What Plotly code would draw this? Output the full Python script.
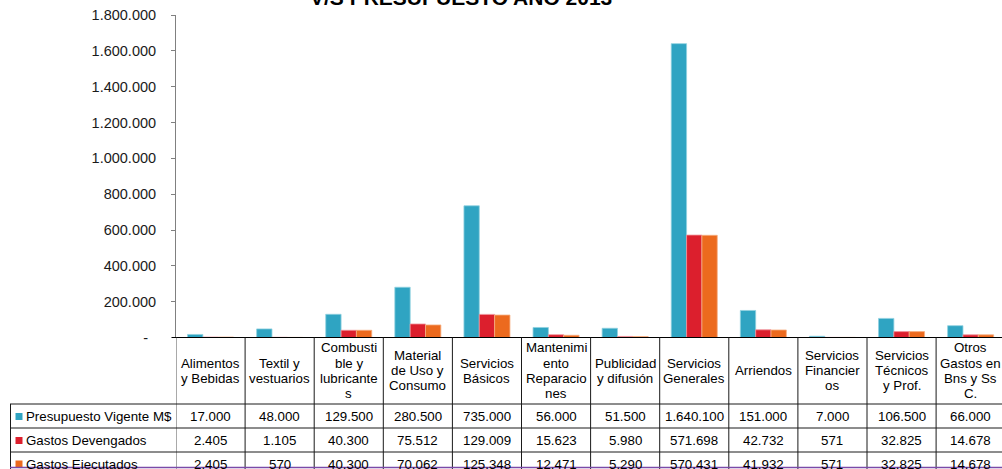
import plotly.graph_objects as go

W, H = 1002, 469
FONT = "Liberation Sans, Arial, sans-serif"

categories = ["Alimentos y Bebidas", "Textil y vestuarios", "Combustible y lubricantes",
              "Material de Uso y Consumo", "Servicios Básicos", "Mantenimiento Reparaciones",
              "Publicidad y difusión", "Servicios Generales", "Arriendos",
              "Servicios Financieros", "Servicios Técnicos y Prof.", "Otros Gastos en Bns y Ss C."]
category_label_lines = [
    ["Alimentos", "y Bebidas"],
    ["Textil y", "vestuarios"],
    ["Combusti", "ble y", "lubricante", "s"],
    ["Material", "de Uso y", "Consumo"],
    ["Servicios", "Básicos"],
    ["Mantenimi", "ento", "Reparacio", "nes"],
    ["Publicidad", "y difusión"],
    ["Servicios", "Generales"],
    ["Arriendos"],
    ["Servicios", "Financier", "os"],
    ["Servicios", "Técnicos", "y Prof."],
    ["Otros", "Gastos en", "Bns y Ss", "C."],
]
series_names = ["Presupuesto Vigente M$", "Gastos Devengados", "Gastos Ejecutados"]
presupuesto = [17000, 48000, 129500, 280500, 735000, 56000, 51500, 1640100, 151000, 7000, 106500, 66000]
devengados = [2405, 1105, 40300, 75512, 129009, 15623, 5980, 571698, 42732, 571, 32825, 14678]
ejecutados = [2405, 570, 40300, 70062, 125348, 12471, 5290, 570431, 41932, 571, 32825, 14678]
colors = ["#2FA4C2", "#DC1F2D", "#EC6A1E"]
edge_colors = ["#8FD0E0", "#F0939A", "#F6AE82"]
y_tickvals = [0, 200000, 400000, 600000, 800000, 1000000, 1200000, 1400000, 1600000, 1800000]
title_text = "V/S PRESUPUESTO AÑO 2013"


def fmt(v):
    return f"{v:,}".replace(",", ".")


def py(p):
    return (H - p) / H


def px(p):
    return p / W


x_left = 176
col_w = 69.1
axis_y = 337.5
top_y = 15
n = len(categories)
x_range_max = -0.5 + (W - x_left) / col_w

fig = go.Figure()
idx = list(range(n))
for name, vals, c, ec in zip(series_names, [presupuesto, devengados, ejecutados], colors, edge_colors):
    fig.add_trace(go.Bar(x=idx, y=vals, name=name, marker=dict(color=c, line=dict(color=ec, width=0.8)),
                         hoverinfo="skip"))

fig.update_layout(
    template="none",
    width=W, height=H, autosize=False,
    margin=dict(l=0, r=0, t=0, b=0, pad=0, autoexpand=False),
    paper_bgcolor="white", plot_bgcolor="white",
    barmode="group", bargap=0.334, bargroupgap=0,
    showlegend=False,
    font=dict(family=FONT, color="#000000"),
    xaxis=dict(domain=[px(x_left), 1], range=[-0.5, x_range_max], showticklabels=False,
               showgrid=False, zeroline=False, showline=False, ticks="", automargin=False),
    yaxis=dict(domain=[py(axis_y), py(top_y)], range=[0, 1800000], showgrid=False, zeroline=False,
               showline=True, linecolor="#808080", linewidth=1, automargin=False,
               ticks="outside", ticklen=4, tickcolor="#808080", tickwidth=1,
               tickvals=y_tickvals,
               ticktext=["-\u00a0\u00a0"] + [fmt(v) for v in y_tickvals[1:]],
               tickfont=dict(family=FONT, size=14.5, color="#1a1a1a"),
               ticklabelstandoff=12),
)

shapes = []
line_col = "#1a1a1a"
# x axis line (extends slightly left of the y axis)
shapes.append(dict(type="line", xref="paper", yref="paper", x0=px(172), x1=1, y0=py(axis_y), y1=py(axis_y),
                   line=dict(color="#000000", width=1.2)))
# continuation of y axis line down through table
shapes.append(dict(type="line", xref="x", yref="paper", x0=-0.5, x1=-0.5, y0=py(axis_y), y1=0,
                   line=dict(color="#555555", width=1)))
# table column lines
for i in range(1, n + 1):
    shapes.append(dict(type="line", xref="x", yref="paper", x0=i - 0.5, x1=i - 0.5, y0=py(axis_y), y1=0,
                       line=dict(color=line_col, width=1)))
# left border of row header
shapes.append(dict(type="line", xref="paper", yref="paper", x0=px(10.5), x1=px(10.5), y0=py(404), y1=0,
                   line=dict(color=line_col, width=1)))
row_lines = [404, 428, 452]
for r in row_lines:
    shapes.append(dict(type="line", xref="paper", yref="paper", x0=px(10), x1=1, y0=py(r), y1=py(r),
                       line=dict(color=line_col, width=1)))
# legend keys
row_centers = [416.5, 440.5, 464]
for c, yc in zip(colors, row_centers):
    shapes.append(dict(type="rect", xref="paper", yref="paper", x0=px(15.5), x1=px(22.5),
                       y0=py(yc + 3.5), y1=py(yc - 3.5), line=dict(width=0), fillcolor=c))
# purple bottom line
shapes.append(dict(type="line", xref="paper", yref="paper", x0=px(10), x1=1, y0=py(467.5), y1=py(467.5),
                   line=dict(color="#7A4BA8", width=1.5)))
fig.update_layout(shapes=shapes)

ann = []
TF = 13.3
# category header labels
hdr_center = (axis_y + 404) / 2
spacing = 15.2
for i, lines in enumerate(category_label_lines):
    k = len(lines)
    for j, t in enumerate(lines):
        yc = hdr_center + (j - (k - 1) / 2) * spacing
        ann.append(dict(x=i, xref="x", y=py(yc), yref="paper", text=t, showarrow=False,
                        xanchor="center", yanchor="middle", font=dict(family=FONT, size=TF, color="#000")))
# row labels and values
for name, vals, yc in zip(series_names, [presupuesto, devengados, ejecutados], row_centers):
    ann.append(dict(x=px(24), xref="paper", y=py(yc), yref="paper", text=name, showarrow=False,
                    xanchor="left", yanchor="middle", font=dict(family=FONT, size=TF, color="#000")))
    for i, v in enumerate(vals):
        ann.append(dict(x=i, xref="x", y=py(yc), yref="paper", text=fmt(v), showarrow=False,
                        xanchor="center", yanchor="middle", font=dict(family=FONT, size=TF, color="#000")))
# title (cut off at the top like the reference)
ann.append(dict(x=px(461), xref="paper", y=py(-2), yref="paper", text=f"<b>{title_text}</b>", showarrow=False,
                xanchor="center", yanchor="middle", font=dict(family=FONT, size=21, color="#000")))
fig.update_layout(annotations=ann)

fig.write_html("out.html")
